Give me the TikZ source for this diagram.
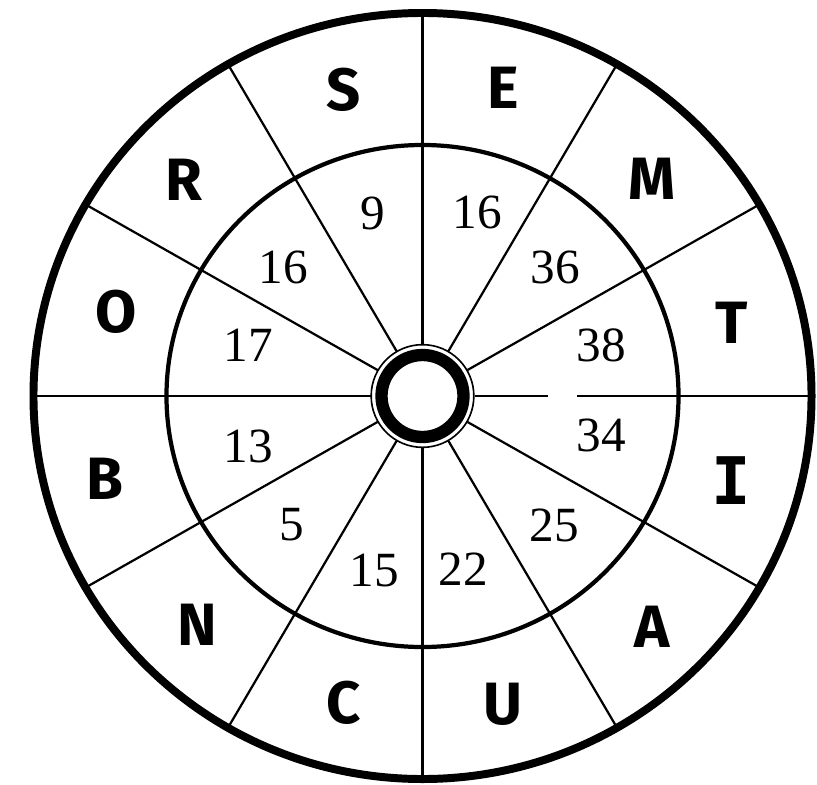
\documentclass[tikz,border=0pt]{standalone}
\usepackage{fontspec}
\setmainfont{Liberation Serif}
\newfontfamily\letterfont{Fira Sans}
\newfontfamily\slabfont{DejaVu Sans Mono}

\tikzset{
  outer rim/.style={line width=6.8pt},
  inner rim/.style={line width=3.6pt},
  spoke/.style={line width=1.9pt},
  hub ring/.style={line width=10.5pt},
  hub edge/.style={line width=1.4pt},
  letter/.style={inner sep=0pt, font=\letterfont\bfseries\fontsize{51}{51}\selectfont},
  score/.style={inner sep=0pt, font=\fontsize{42}{42}\selectfont},
}

\begin{document}
\begin{tikzpicture}[x=0.03cm,y=-0.03cm]
\useasboundingbox (0,0) rectangle (817,784);
\coordinate (centre) at (422.5,396);

% spokes
\foreach \a in {30,60,...,330}
  \draw[spoke] ({422.5+52*cos(\a)},{396+52*sin(\a)}) -- ({422.5+389*cos(\a)},{396+383*sin(\a)});
\draw[spoke] (474.5,396) -- (548,396);
\draw[spoke] (577,396) -- (811.5,396);

% rims
\draw[outer rim] (centre) ellipse [x radius=11.67cm, y radius=11.49cm];
\draw[inner rim] (centre) ellipse [x radius=7.68cm, y radius=7.53cm];

% hub
\draw[hub edge] (centre) circle [radius=1.54cm];
\draw[hub ring] (centre) circle [radius=1.23cm];

% letters
\foreach \x/\y/\t in {344/90/S, 503/88/E, 652/179/M, 732/323/T, 652/627/A,
                      503/704/U, 344/703/C, 197/625/N, 105/479/B, 116/312/O, 184/180/R}
  \node[letter] (l-\t) at (\x,\y) {\t};
\node[letter, font=\slabfont\bfseries\fontsize{56}{56}\selectfont] (l-I) at (731,481) {I};

% numbers
\foreach \x/\y/\t [count=\i] in {373/213/9, 477/212/16, 555/267/36, 601/345/38, 601/435/34, 554/525/25,
                                 463/569/22, 374/570/15, 292/525/5, 248/446/13, 248/345/17, 283/267/16}
  \node[score] (n\i) at (\x,\y) {\t};
\end{tikzpicture}
\end{document}
